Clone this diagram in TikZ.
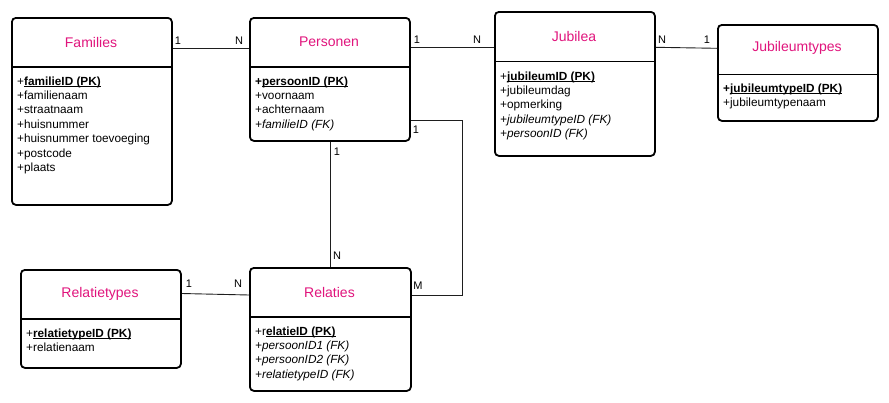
\documentclass[tikz,border=0pt]{standalone}
\usepackage{fontspec}
\setmainfont{Liberation Sans}
\definecolor{ttl}{RGB}{224,20,124}
\definecolor{lnk}{RGB}{30,30,30}
\newcommand\pkline[1]{\setbox0\hbox{#1}\rlap{\rule[-1.6pt]{\wd0}{0.9pt}}\box0}
\begin{document}
\begin{tikzpicture}[x=1pt,y=-1pt,
  box/.style={draw=black, line width=1.8pt, rounded corners=4pt, inner sep=0pt, anchor=north west},
  divider/.style={draw=black, line width=1.8pt},
  title/.style={text=ttl, font=\fontsize{14}{16}\selectfont, inner sep=0pt},
  attr/.style={anchor=base west, inner sep=0pt, font=\fontsize{11.8}{13}\selectfont},
  link/.style={draw=lnk, line width=0.9pt},
  card/.style={inner sep=0pt, font=\fontsize{11}{13}\selectfont}]
\useasboundingbox (0,0) rectangle (889,402);

% Families
\node[box, minimum width=160pt, minimum height=187pt] (fam) at (11,17) {};
\draw[divider] (fam.west |- 0,67) -- (fam.east |- 0,67);
\node[title] (famT) at (91,42) {Families};
\foreach \t [count=\i] in {{+\textbf{\pkline{familieID (PK)}}},+familienaam,+straatnaam,+huisnummer,+huisnummer toevoeging,+postcode,+plaats}
  \node[attr] (fam\i) at (17,{85+14.4*(\i-1)}) {\t};

% Personen
\node[box, minimum width=160pt, minimum height=123pt] (pers) at (249,17) {};
\draw[divider] (pers.west |- 0,67) -- (pers.east |- 0,67);
\node[title] (persT) at (329,42) {Personen};
\foreach \t [count=\i] in {{\textbf{+\pkline{persoonID (PK)}}},+voornaam,+achternaam,{\textit{+familieID (FK)}}}
  \node[attr] (pers\i) at (255,{85+14.4*(\i-1)}) {\t};

% Jubilea
\node[box, minimum width=160pt, minimum height=144pt] (jub) at (494,11) {};
\draw[divider] (jub.west |- 0,61.5) -- (jub.east |- 0,61.5);
\node[title] (jubT) at (574,36) {Jubilea};
\foreach \t [count=\i] in {{+\textbf{\pkline{jubileumID (PK)}}},+jubileumdag,+opmerking,{\textit{+jubileumtypeID (FK)}},{\textit{+persoonID (FK)}}}
  \node[attr] (jub\i) at (500,{80+14.4*(\i-1)}) {\t};

% Jubileumtypes
\node[box, minimum width=160pt, minimum height=96pt] (jt) at (717,24) {};
\draw[divider] (jt.west |- 0,74.5) -- (jt.east |- 0,74.5);
\node[title] (jtT) at (797,48) {Jubileumtypes};
\foreach \t [count=\i] in {{\textbf{+\pkline{jubileumtypeID (PK)}}},+jubileumtypenaam}
  \node[attr] (jt\i) at (723,{92.5+14.4*(\i-1)}) {\t};

% Relatietypes
\node[box, minimum width=160pt, minimum height=98pt] (rt) at (20,269) {};
\draw[divider] (rt.west |- 0,319) -- (rt.east |- 0,319);
\node[title] (rtT) at (100,294) {Relatietypes};
\foreach \t [count=\i] in {{+\textbf{\pkline{relatietypeID (PK)}}},+relatienaam}
  \node[attr] (rt\i) at (26,{337.5+14.4*(\i-1)}) {\t};

% Relaties
\node[box, minimum width=161pt, minimum height=123pt] (rel) at (249,267) {};
\draw[divider] (rel.west |- 0,317) -- (rel.east |- 0,317);
\node[title] (relT) at (329.5,292) {Relaties};
\foreach \t [count=\i] in {{+r\textbf{\pkline{elatieID (PK)}}},{\textit{+persoonID1 (FK)}},{\textit{+persoonID2 (FK)}},{\textit{+relatietypeID (FK)}}}
  \node[attr] (rel\i) at (255,{335+14.4*(\i-1)}) {\t};

% connectors
\coordinate (vx) at (330,0);
\coordinate (c1) at (462,120);
\coordinate (c2) at (462,295);
\draw[link] (fam.east |- 0,48) -- (pers.west |- 0,48);
\draw[link] (pers.east |- 0,47) -- (jub.west |- 0,47);
\draw[link] (jub.east |- 0,47.3) -- (jt.west |- 0,48.3);
\draw[link] (pers.south -| vx) -- (rel.north -| vx);
\draw[link] (pers.east |- c1) -- (c1) -- (c2) -- (rel.east |- c2);
\draw[link] (rt.east |- 0,293.5) -- (rel.west |- 0,295);

% cardinalities
\node[card] (l1) at (178,41) {1};
\node[card] (l2) at (239,41) {N};
\node[card] (l3) at (417,39.5) {1};
\node[card] (l4) at (477,39.5) {N};
\node[card] (l5) at (662,40) {N};
\node[card] (l6) at (707,40) {1};
\node[card] (l7) at (337,152) {1};
\node[card] (l8) at (337,256) {N};
\node[card] (l9) at (416,130) {1};
\node[card] (l10) at (418,286) {M};
\node[card] (l11) at (189,284) {1};
\node[card] (l12) at (238,284) {N};
\end{tikzpicture}
\end{document}
